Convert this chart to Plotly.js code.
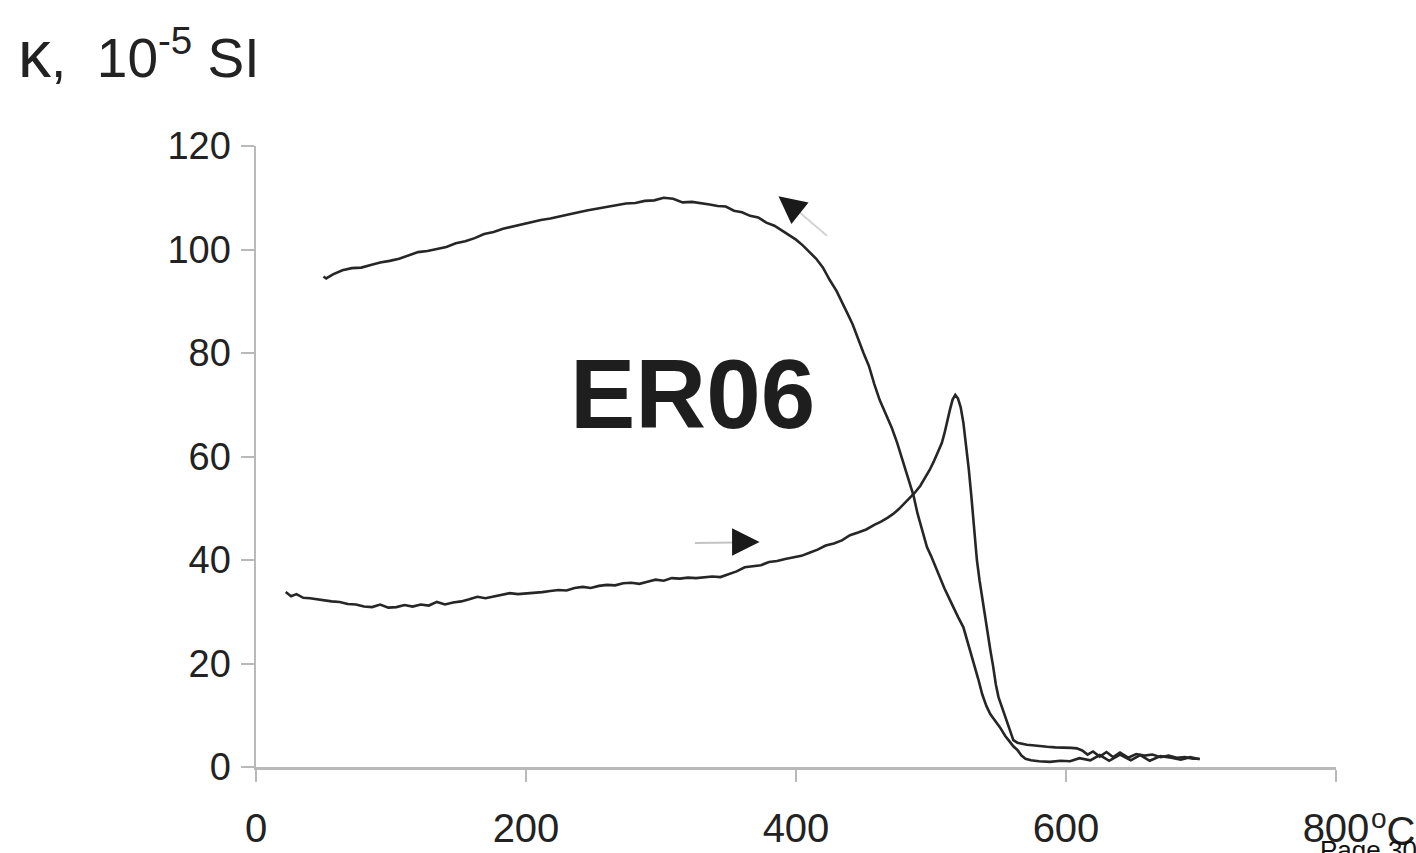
<!DOCTYPE html>
<html>
<head>
<meta charset="utf-8">
<script src="https://cdn.plot.ly/plotly-3.0.1.min.js"></script>
<style>html,body{margin:0;padding:0;background:#fff;}#chart{width:1416px;height:853px;}</style>
</head>
<body>
<div id="chart"></div>
<script>
// Heating curve (temperature °C, susceptibility 10^-5 SI)
const heatT = [22,26,30,35,40,45,50,56,62,68,74,80,86,92,98,104,110,116,122,128,134,140,146,152,158,164,170,176,182,188,194,200,206,212,218,224,230,236,242,248,254,260,266,272,278,284,290,296,302,308,314,320,326,332,338,344,350,356,362,368,374,380,386,392,398,404,410,416,422,428,434,440,446,452,458,463,468,472,476,480,484,488,492,496,499,502,505,508,510,512,514,516,518,520,522,524,526,528,530,532,534,536,538,540,542,544,546,548,550,552,554,556,558,561,564,567,571,575,580,586,592,598,604,608,612,616,620,625,630,635,640,646,652,658,664,670,676,682,688,694,699];
const heatK = [33.8,33.0,33.4,32.7,32.6,32.4,32.3,32.0,31.9,31.5,31.4,31.0,30.9,31.4,30.8,30.9,31.3,31.0,31.4,31.2,31.9,31.4,31.8,32.0,32.4,32.9,32.6,32.9,33.3,33.6,33.4,33.5,33.7,33.8,34.0,34.2,34.1,34.6,34.8,34.6,35.0,35.2,35.1,35.5,35.6,35.4,35.8,36.2,36.0,36.5,36.4,36.6,36.5,36.7,36.8,36.7,37.2,37.8,38.6,38.8,39.0,39.6,39.8,40.2,40.5,40.8,41.4,42.0,42.8,43.2,43.8,44.8,45.3,45.9,46.8,47.4,48.2,48.9,49.8,50.8,51.8,53.0,54.3,56.0,57.4,59.0,60.8,62.6,64.5,67.0,69.0,71.0,71.9,71.2,69.5,66.5,62.5,57.5,52.0,46.0,40.0,36.0,32.5,29.5,26.0,22.5,19.5,16.0,13.5,12.0,10.5,9.0,7.2,5.2,4.7,4.5,4.3,4.2,4.0,3.9,3.8,3.8,3.7,3.6,3.2,2.4,3.0,2.0,2.9,1.9,2.8,1.8,2.5,2.2,2.4,1.9,2.2,1.8,1.9,1.6,1.6];

// Cooling curve
const coolT = [699,692,685,678,670,662,655,648,640,632,625,618,610,603,596,588,580,574,570,567,564,561,558,555,551,547,544,541,538,535,531,528,524,520,517,514,510,507,503,500,497,493,490,487,483,479,475,471,467,462,458,454,450,446,442,438,434,430,425,420,415,410,405,400,395,390,384,378,372,366,360,354,348,342,336,330,323,316,309,302,295,288,281,274,267,260,253,246,239,232,225,218,211,204,197,190,183,176,169,162,155,148,141,134,127,120,113,106,99,92,85,78,71,64,57,52,50];
const coolK = [1.5,1.9,1.4,1.8,2.1,1.2,2.3,1.3,2.4,1.2,2.3,1.3,1.7,1.1,1.2,1.0,1.1,1.3,1.6,2.2,3.3,4.0,5.0,6.0,7.7,9.0,10.2,11.8,14.0,17.0,20.7,23.5,27.0,29.0,30.8,32.3,34.5,36.5,39.0,40.8,42.5,46.0,49.0,52.5,56.0,59.0,62.6,65.5,68.0,70.9,74.0,77.5,80.0,82.8,85.5,87.7,89.8,92.0,94.1,96.5,98.2,99.6,100.8,101.9,102.8,103.6,104.6,105.2,106.2,106.5,107.2,107.5,108.3,108.4,108.7,108.9,109.2,109.1,109.8,110.0,109.5,109.4,109.0,108.9,108.6,108.3,108.0,107.6,107.2,106.8,106.3,106.0,105.7,105.3,104.9,104.5,104.0,103.4,103.0,102.2,101.6,101.2,100.5,100.1,99.7,99.5,98.9,98.2,97.8,97.5,97.0,96.5,96.4,96.0,95.2,94.4,94.8];

const xTicks = [0,200,400,600,800];
const yTicks = [0,20,40,60,80,100,120];

const FONT = '"Liberation Sans", Arial, sans-serif';
const lineStyle = {color:'#262626', width:2.6};

const traces = [
  {x:heatT, y:heatK, type:'scatter', mode:'lines', line:lineStyle, name:'heating', hoverinfo:'x+y'},
  {x:coolT, y:coolK, type:'scatter', mode:'lines', line:lineStyle, name:'cooling', hoverinfo:'x+y'}
];

const layout = {
  width:1416, height:853,
  paper_bgcolor:'#ffffff', plot_bgcolor:'#ffffff',
  showlegend:false,
  margin:{l:256, r:80, t:146, b:86},
  font:{family:FONT, color:'#222', size:38},
  xaxis:{
    range:[0,800], tickvals:xTicks, ticktext:xTicks.map(String),
    showline:true, linecolor:'#b9b9b9', linewidth:2.5,
    ticks:'outside', ticklen:12, tickwidth:2, tickcolor:'#b9b9b9',
    showgrid:false, zeroline:false,
    tickfont:{family:FONT, size:40, color:'#222'},
    ticklabelstandoff:12
  },
  yaxis:{
    range:[0,120], tickvals:yTicks, ticktext:yTicks.map(String),
    showline:true, linecolor:'#b9b9b9', linewidth:2.5,
    ticks:'outside', ticklen:13, tickwidth:2, tickcolor:'#b9b9b9',
    showgrid:false, zeroline:false,
    tickfont:{family:FONT, size:38, color:'#222'},
    ticklabelstandoff:2
  },
  annotations:[
    {text:'<b>ER06</b>', xref:'x', yref:'y', x:323, y:72, showarrow:false,
     font:{family:FONT, size:98, color:'#1e1e1e'}},
    {text:'<span style="font-size:66px">κ</span>,&nbsp; 10<sup>-5</sup> SI', xref:'paper', yref:'paper', x:-0.222, y:1.085,
     xanchor:'left', yanchor:'bottom', showarrow:false,
     font:{family:FONT, size:55, color:'#222'}},
    {text:'<sup>o</sup>C', xref:'paper', yref:'paper', x:1.031, y:-0.098,
     xanchor:'left', yanchor:'middle', showarrow:false,
     font:{family:FONT, size:40, color:'#222'}},
    {text:'Page 30', xref:'paper', yref:'paper', x:0.983, y:-0.106,
     xanchor:'left', yanchor:'top', showarrow:false,
     font:{family:FONT, size:26, color:'#111'}},
    // heating arrow: grey tail + black head
    {xref:'x', yref:'y', axref:'x', ayref:'y', x:356, y:43.4, ax:324, ay:43.3,
     showarrow:true, arrowhead:0, arrowwidth:2, arrowcolor:'#c4c4c4', text:''},
    {xref:'x', yref:'y', axref:'x', ayref:'y', x:373, y:43.5, ax:354, ay:43.5,
     showarrow:true, arrowhead:2, arrowsize:2.2, arrowwidth:2.5, arrowcolor:'#1a1a1a', text:''},
    // cooling arrow
    {xref:'x', yref:'y', axref:'x', ayref:'y', x:398, y:108.2, ax:424, ay:102.4,
     showarrow:true, arrowhead:0, arrowwidth:2, arrowcolor:'#d4d4d4', text:''},
    {xref:'x', yref:'y', axref:'x', ayref:'y', x:387, y:110.3, ax:401, ay:107.4,
     showarrow:true, arrowhead:2, arrowsize:2.2, arrowwidth:2.5, arrowcolor:'#1a1a1a', text:''}
  ]
};

Plotly.newPlot('chart', traces, layout, {displayModeBar:false, staticPlot:true});
</script>
</body>
</html>
